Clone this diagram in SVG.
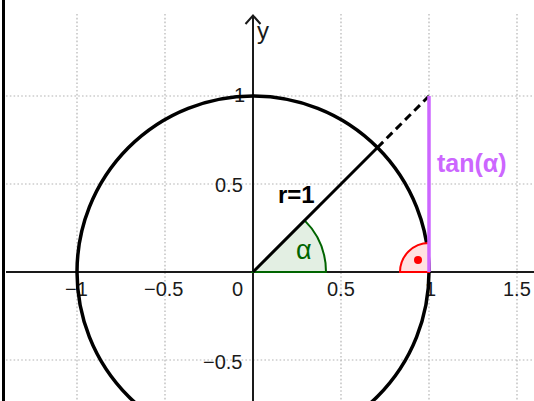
<svg xmlns="http://www.w3.org/2000/svg" width="534" height="401" viewBox="0 0 534 401">
<defs>
<style>
.grid{stroke:#b4b4b4;stroke-width:1.2;stroke-dasharray:1.6 2.2;fill:none}
.axis{stroke:#1a1a1a;stroke-width:2;fill:none}
.lbl{font-family:"Liberation Sans",Arial,sans-serif;font-size:20px;fill:#1a1a1a}
</style>
</defs>
<rect width="534" height="401" fill="#ffffff"/>
<g id="grid">
<line class="grid" x1="77" y1="14" x2="77" y2="401"/>
<line class="grid" x1="165" y1="14" x2="165" y2="401"/>
<line class="grid" x1="341" y1="14" x2="341" y2="401"/>
<line class="grid" x1="429" y1="14" x2="429" y2="401"/>
<line class="grid" x1="517" y1="14" x2="517" y2="401"/>
<line class="grid" x1="6" y1="96" x2="534" y2="96"/>
<line class="grid" x1="6" y1="184" x2="534" y2="184"/>
<line class="grid" x1="6" y1="360" x2="534" y2="360"/>
</g>
<g id="border"><line x1="3.5" y1="0" x2="3.5" y2="401" stroke="#000" stroke-width="3"/></g>
<g id="axes">
<line class="axis" x1="6" y1="272" x2="534" y2="272"/>
<line class="axis" x1="253" y1="16" x2="253" y2="401"/>
<polyline class="axis" points="245.5,24 253,15.5 260.5,24" stroke-width="1.8"/>
<text class="lbl" x="257" y="39" style="font-size:24px">y</text>
</g>
<g id="ticklabels" class="lbl">
<text x="65" y="296">−1</text>
<text x="144" y="296">−0.5</text>
<text x="232" y="296">0</text>
<text x="327" y="296">0.5</text>
<text x="425" y="296">1</text>
<text x="503" y="296">1.5</text>
<text x="234" y="102">1</text>
<text x="215" y="192">0.5</text>
<text x="203" y="369">−0.5</text>
</g>
<g id="angle-alpha">
<path d="M253,272 L326,272 A73,73 0 0 0 304.6,220.4 Z" fill="#e3efe3" stroke="#006400" stroke-width="2"/>
<text x="296" y="259" font-family="'Liberation Sans',Arial,sans-serif" font-size="27" fill="#006400">α</text>
</g>
<g id="circle">
<circle cx="253" cy="272" r="176" fill="none" stroke="#000" stroke-width="3.5"/>
</g>
<g id="right-angle">
<path d="M429,272 L400,272 A29,29 0 0 1 429,243 Z" fill="#ffe1e1" stroke="#ff0000" stroke-width="2"/>
<circle cx="418" cy="260" r="4" fill="#ff0000"/>
</g>
<g id="connectors">
<line x1="253" y1="272" x2="377.5" y2="147.5" stroke="#000" stroke-width="3"/>
<line x1="377.5" y1="147.5" x2="429" y2="96" stroke="#000" stroke-width="3" stroke-dasharray="8 5"/>
<line x1="429" y1="272" x2="429" y2="96" stroke="#cc66ff" stroke-width="3.5"/>
</g>
<g id="labels">
<text x="278" y="203" font-family="'Liberation Sans',Arial,sans-serif" font-size="24" font-weight="bold" fill="#000">r=1</text>
<text x="437" y="172" font-family="'Liberation Sans',Arial,sans-serif" font-size="25" font-weight="bold" fill="#cc66ff">tan(α)</text>
</g>
</svg>
